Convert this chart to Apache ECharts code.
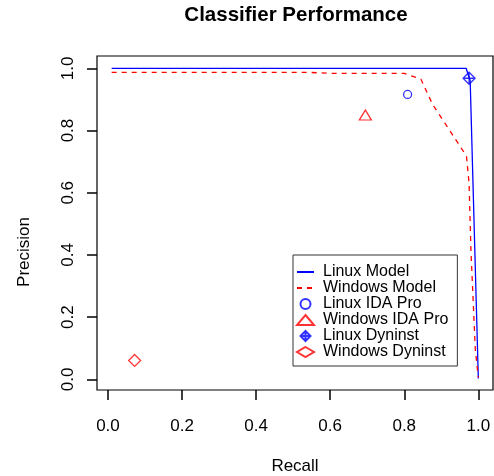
<!DOCTYPE html>
<html>
<head>
<meta charset="utf-8">
<script src="https://cdn.jsdelivr.net/npm/echarts@6/dist/echarts.min.js"></script>
<style>
  html, body { margin: 0; padding: 0; background: #fff; }
  #chart { width: 494px; height: 476px; }
</style>
</head>
<body>
<div id="chart"></div>
<script>
// recall / precision pairs
const linuxModel = [[0.01, 1.0], [0.967, 1.0], [0.978, 0.96], [1.0, 0.003]]
const windowsModel = [
  [0.01, 0.987], [0.54, 0.987], [0.6, 0.984], [0.8, 0.984], [0.845, 0.965],
  [0.876, 0.885], [0.968, 0.718], [0.975, 0.63], [0.98, 0.415],
  [0.988, 0.2], [0.992, 0.093], [1.0, 0.007],
]
const linuxIda = [[0.809, 0.916]]
const windowsIda = [[0.695, 0.85]]
const linuxDyninst = [[0.975, 0.968]]
const windowsDyninst = [[0.072, 0.061]]
const tickValues = [0, 0.2, 0.4, 0.6, 0.8, 1.0]

const FONT = 'Liberation Sans, Arial, Helvetica, sans-serif'
const BLUE = '#0000ff'
const RED = '#ff0000'

const chart = echarts.init(document.getElementById('chart'))

const axisCommon = {
  type: 'value',
  splitLine: { show: false },
  // the grid border doubles as the axis line; don't snap to zero
  axisLine: { show: false, onZero: false },
  axisTick: { show: true, inside: false, length: 10, customValues: tickValues, lineStyle: { color: '#000', width: 1.5 } },
  nameLocation: 'middle',
  nameTextStyle: { fontFamily: FONT, fontSize: 17, color: '#000' },
}

const option = {
  animation: false,
  backgroundColor: '#fff',
  title: {
    text: 'Classifier Performance',
    left: 291,
    textAlign: 'center',
    top: 0,
    textStyle: { fontFamily: FONT, fontSize: 20.5, fontWeight: 'bold', color: '#000' },
  },
  grid: {
    left: 97, top: 56, right: 1, bottom: 86,
    outerBoundsMode: 'none',
    show: true, borderColor: '#000', borderWidth: 1.2,
  },
  xAxis: {
    ...axisCommon,
    min: -0.0296,
    max: 1.0396,
    name: 'Recall',
    nameGap: 68,
    axisLabel: {
      customValues: tickValues,
      formatter: (v) => v.toFixed(1),
      margin: 28,
      fontFamily: FONT, fontSize: 17, color: '#000',
    },
  },
  yAxis: {
    ...axisCommon,
    min: -0.034,
    max: 1.0396,
    name: 'Precision',
    nameGap: 64,
    nameTextStyle: { ...axisCommon.nameTextStyle, padding: [0, 58, 0, 0] },
    axisLabel: {
      customValues: tickValues,
      formatter: (v) => v.toFixed(1),
      rotate: 90,
      margin: 20,
      fontFamily: FONT, fontSize: 17, color: '#000',
    },
  },
  legend: {
    orient: 'vertical',
    left: 293,
    top: 255,
    padding: [9, 9, 6, 3],
    itemWidth: 17,
    itemHeight: 10,
    itemGap: 0,
    borderColor: '#333',
    borderWidth: 1,
    backgroundColor: '#fff',
    textStyle: { fontFamily: FONT, fontSize: 16, lineHeight: 16, color: '#000', padding: [0, 0, 0, 4] },
    data: [
      // line entries: just the line, no marker
      { name: 'Linux Model', itemStyle: { opacity: 0 } },
      { name: 'Windows Model', itemStyle: { opacity: 0 } },
      'Linux IDA Pro', 'Windows IDA Pro', 'Linux Dyninst', 'Windows Dyninst',
    ],
  },
  series: [
    {
      name: 'Linux Model', type: 'line', data: linuxModel,
      symbol: 'none', color: BLUE,
      lineStyle: { color: BLUE, width: 1.3 },
    },
    {
      name: 'Windows Model', type: 'line', data: windowsModel,
      symbol: 'none', color: RED,
      lineStyle: { color: RED, width: 1.3, type: [5, 5] },
    },
    {
      name: 'Linux IDA Pro', type: 'scatter', data: linuxIda,
      symbol: 'circle', symbolSize: 8,
      itemStyle: { color: 'transparent', borderColor: BLUE, borderWidth: 1.3 },
    },
    {
      name: 'Windows IDA Pro', type: 'scatter', data: windowsIda,
      symbol: 'triangle', symbolSize: [12, 10],
      itemStyle: { color: 'transparent', borderColor: RED, borderWidth: 1.3 },
    },
    {
      name: 'Linux Dyninst', type: 'scatter', data: linuxDyninst,
      symbol: 'path://M0,-1 L1,0 L0,1 L-1,0 Z M0,-1 L0,1 M-1,0 L1,0',
      symbolSize: 12,
      itemStyle: { color: 'transparent', borderColor: BLUE, borderWidth: 1.3 },
    },
    {
      name: 'Windows Dyninst', type: 'scatter', data: windowsDyninst,
      symbol: 'diamond', symbolSize: 12,
      itemStyle: { color: 'transparent', borderColor: RED, borderWidth: 1.3 },
    },
  ],
}

chart.setOption(option)
</script>
</body>
</html>
